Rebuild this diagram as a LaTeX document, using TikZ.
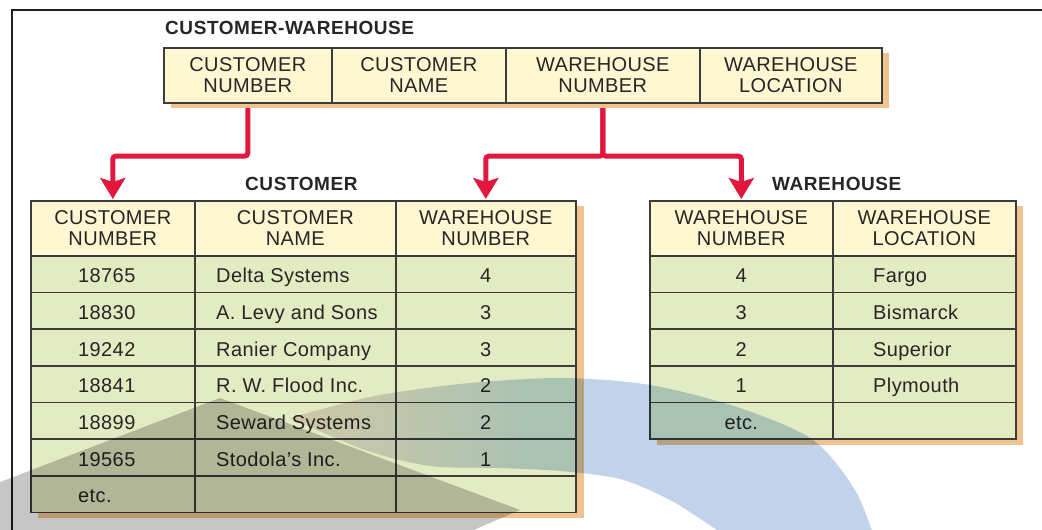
\documentclass[tikz,border=0pt]{standalone}
\usepackage{fontspec}
\setmainfont{Liberation Sans}[LetterSpace=2]
\newfontfamily\ttlfont{Liberation Sans}[LetterSpace=3]
\usetikzlibrary{arrows.meta,backgrounds,calc}
\definecolor{hdrfill}{HTML}{FFF7D1}
\definecolor{rowfill}{HTML}{E3EBC2}
\definecolor{bordercol}{HTML}{3C3C3C}
\definecolor{shadowcol}{HTML}{F1C48F}
\definecolor{arrowred}{HTML}{E2173D}
\definecolor{txtcol}{HTML}{262626}
\definecolor{framecol}{HTML}{202020}
\definecolor{wmblue}{HTML}{C0D3EA}
\definecolor{wmtan}{HTML}{F4DCD8}
\definecolor{wmgray}{HTML}{C6C6C6}
\pgfdeclarehorizontalshading{wmband}{100bp}{color(0bp)=(wmtan); color(20bp)=(wmtan); color(45bp)=(wmblue); color(100bp)=(wmblue)}
\begin{document}
\begin{tikzpicture}[x=1pt,y=-1pt,
  tbl/.style={draw=bordercol, line width=1.6pt, rectangle, inner sep=0pt, anchor=north west},
  hdr/.style={tbl, fill=hdrfill, minimum height=55pt, align=center,
              font=\fontsize{20}{21}\selectfont, text=txtcol},
  cell/.style={tbl, fill=rowfill, minimum height=36.67pt},
  txt/.style={font=\fontsize{20}{21}\selectfont, text=txtcol, inner sep=0pt},
  ttl/.style={font=\ttlfont\bfseries\fontsize{19}{21}\selectfont, text=txtcol, inner sep=0pt, anchor=base west},
  conn/.style={draw=arrowred, line width=5pt, rounded corners=3pt,
               -{Stealth[length=21pt,width=25pt,inset=4pt]}, shorten >=1pt}]
\useasboundingbox (0,0) rectangle (1042,530);
\clip (0,0) rectangle (1042,530);

% frame
\draw[line width=2.2pt, framecol] (12,535) -- (12,10) -- (1045,10);

% titles
\node[ttl] (tcw) at (165,34.3) {CUSTOMER-WAREHOUSE};
\node[ttl] (tc) at (245,190) {CUSTOMER};
\node[ttl] (tw) at (772,190) {WAREHOUSE};

% shadows
\fill[shadowcol] (171,53) rectangle (889,108);
\fill[shadowcol] (38,206) rectangle (584,518);
\fill[shadowcol] (657,206) rectangle (1023,444.5);

% top table
\node[hdr, minimum width=168pt] (tcn)  at (163,47) {CUSTOMER\\NUMBER};
\node[hdr, minimum width=174pt] (tcnm) at (331,47) {CUSTOMER\\NAME};
\node[hdr, minimum width=194pt] (twn)  at (505,47) {WAREHOUSE\\NUMBER};
\node[hdr, minimum width=182pt] (twl)  at (699,47) {WAREHOUSE\\LOCATION};

% customer table
\node[hdr, minimum width=164pt] (ccn)  at (30,200)  {CUSTOMER\\NUMBER};
\node[hdr, minimum width=201pt] (ccnm) at (194,200) {CUSTOMER\\NAME};
\node[hdr, minimum width=180pt] (cwn)  at (395,200) {WAREHOUSE\\NUMBER};
\foreach \n/\nm/\w [count=\i from 0] in {18765/Delta Systems/4, 18830/A. Levy and Sons/3,
   19242/Ranier Company/3, 18841/R. W. Flood Inc./2, 18899/Seward Systems/2,
   19565/Stodola’s Inc./1, etc./{}/{}}{
  \pgfmathsetmacro\yy{255+\i*36.667}
  \node[cell, minimum width=164pt] (cra\i) at (30,\yy) {};
  \node[cell, minimum width=201pt] (crb\i) at (194,\yy) {};
  \node[cell, minimum width=180pt] (crc\i) at (395,\yy) {};
  \node[txt, anchor=base west] (crta\i) at ($(cra\i.north west)+(48,27.7)$) {\n};
  \node[txt, anchor=base west] (crtb\i) at ($(crb\i.north west)+(22,27.7)$) {\nm};
  \node[txt, anchor=base] (crtc\i) at ($(crc\i.north)+(0,27.7)$) {\w};
}

% warehouse table
\node[hdr, minimum width=183pt] (wwn) at (649,200) {WAREHOUSE\\NUMBER};
\node[hdr, minimum width=183pt] (wwl) at (832,200) {WAREHOUSE\\LOCATION};
\foreach \a/\b [count=\i from 0] in {4/Fargo, 3/Bismarck, 2/Superior, 1/Plymouth, etc./{}}{
  \pgfmathsetmacro\yy{255+\i*36.667}
  \node[cell, minimum width=183pt] (wra\i) at (649,\yy) {};
  \node[cell, minimum width=183pt] (wrb\i) at (832,\yy) {};
  \node[txt, anchor=base] (wrta\i) at ($(wra\i.north)+(0,27.7)$) {\a};
  \node[txt, anchor=base west] (wrtb\i) at ($(wrb\i.north west)+(41,27.7)$) {\b};
}

% connectors
\begin{scope}[on background layer]
  \draw[conn] (tcn.south) -- ++(0,52.5) -| (ccn.north);
  \draw[conn] (twn.south) -- ++(0,52.5) -| (cwn.north);
  \draw[conn] (twn.south) -- ++(0,52.5) -| (wwn.north);
\end{scope}

% watermark shapes
\fill[wmgray, blend mode=multiply] (-5,484) -- (220,398) -- (520,510) -- (462,535) -- (-5,535) -- cycle;
\shade[shading=wmband, blend mode=multiply]
  plot[smooth] coordinates {(290,418) (370,397) (460,384) (560,378) (650,385) (740,408) (813,440) (855,490) (875,540)}
  -- plot[smooth] coordinates {(760,560) (717,530) (670,500) (620,479) (560,471) (500,468) (430,466) (365,450) (290,418)}
  -- cycle;
\end{tikzpicture}
\end{document}
